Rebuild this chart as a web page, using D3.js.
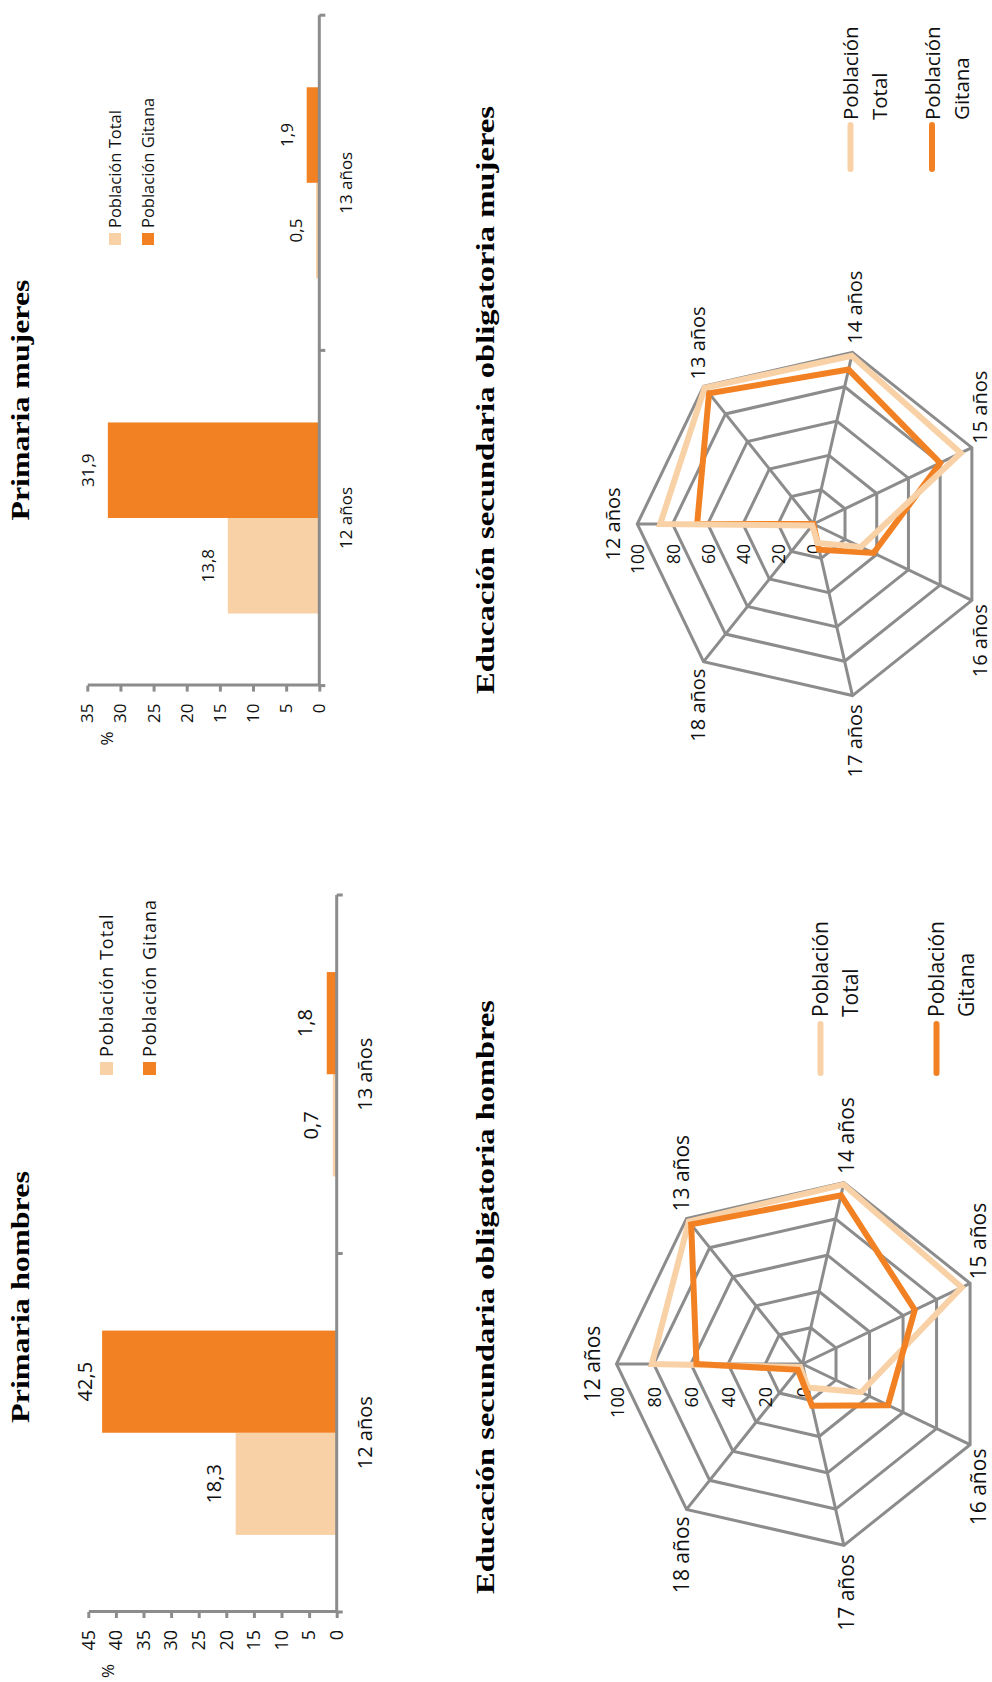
<!DOCTYPE html>
<meta charset="utf-8">
<style>
  body { margin: 0; background: #fff; }
  svg { display: block; }
  text { font-family: "Open Sans", sans-serif; fill: #111; }
  .title { font-family: "Liberation Serif", serif; font-weight: bold; fill: #000; }
  .axis path, .axis line { stroke: #8c8c8c; stroke-width: 3; fill: none; }
  .grid { fill: none; stroke: #8c8c8c; stroke-width: 3; }
</style>
<body></body>
<script src="https://cdn.jsdelivr.net/npm/d3@7"></script>
<script>
// ---- data ----
var barAges = ["12 años", "13 años"];
var barSeries = ["Población Total", "Población Gitana"];
var primHombresTotal = [18.3, 0.7];
var primHombresGitana = [42.5, 1.8];
var primMujeresTotal = [13.8, 0.5];
var primMujeresGitana = [31.9, 1.9];
var ticksHombres = [0, 5, 10, 15, 20, 25, 30, 35, 40, 45];
var ticksMujeres = [0, 5, 10, 15, 20, 25, 30, 35];

var radarAges = ["12 años", "13 años", "14 años", "15 años", "16 años", "17 años", "18 años"];
var ringLevels = [0, 20, 40, 60, 80, 100];
var esoHombresTotal = [81, 98, 99, 95, 35, 13, 2];
var esoHombresGitana = [57, 96, 93, 67, 51, 23, 4];
var esoMujeresTotal = [87, 99, 98, 93, 30, 11, 1];
var esoMujeresGitana = [66, 95, 90, 80, 38, 15, 0];

var colors = ["#f9d1a7", "#f28123"];

var fmt = d3.formatLocale({decimal: ",", thousands: ".", grouping: [3], currency: ["", "€"]}).format(".1f");

var W = 992, H = 1682;
var svg = d3.select("body").append("svg").attr("width", W).attr("height", H);
// the page is printed landscape and turned a quarter turn
var root = svg.append("g").attr("transform", "translate(0," + H + ") rotate(-90)");

function title(txt, x, y, len) {
  root.append("text").attr("class", "title")
    .attr("x", x).attr("y", y)
    .attr("text-anchor", "middle")
    .attr("font-size", 26)
    .attr("textLength", len).attr("lengthAdjust", "spacingAndGlyphs")
    .text(txt);
}

function barChart(o) {
  var g = root.append("g");
  var x0 = d3.scaleBand().domain(barAges).range([o.x0, o.x1]);
  var bw = x0.bandwidth();
  var x1 = d3.scaleBand().domain(barSeries).range([bw * 0.215, bw * 0.785]);
  var y = d3.scaleLinear().domain([0, o.max]).range([o.base, o.top]);

  var rows = barAges.map(function(a, i) {
    return {age: a, vals: [{s: barSeries[0], v: o.total[i], c: colors[0]},
                           {s: barSeries[1], v: o.gitana[i], c: colors[1]}]};
  });

  var grp = g.selectAll(".grp").data(rows).enter().append("g")
    .attr("transform", function(d) { return "translate(" + x0(d.age) + ",0)"; });

  grp.selectAll("rect").data(function(d) { return d.vals; }).enter().append("rect")
    .attr("x", function(d) { return x1(d.s); })
    .attr("width", x1.bandwidth())
    .attr("y", function(d) { return y(d.v); })
    .attr("height", function(d) { return y(0) - y(d.v); })
    .attr("fill", function(d) { return d.c; });

  grp.selectAll(".lbl").data(function(d) { return d.vals; }).enter().append("text")
    .attr("x", function(d) { return x1(d.s) + x1.bandwidth() / 2; })
    .attr("y", function(d) { return Math.max(y(d.v) - o.lblGap, o.top + 4); })
    .attr("text-anchor", "middle")
    .attr("font-size", o.lblFont)
    .text(function(d) { return fmt(d.v); });

  // value axis
  var ya = g.append("g").attr("class", "axis")
    .attr("transform", "translate(" + o.x0 + ",0)")
    .call(d3.axisLeft(y).tickValues(o.ticks).tickSize(6).tickSizeOuter(0).tickPadding(12));
  ya.attr("font-family", null).attr("font-size", null);
  ya.selectAll("text").attr("font-size", o.tickFont).style("fill", "#111");

  // category axis with ticks between the groups
  var xa = g.append("g").attr("class", "axis").attr("transform", "translate(0," + y(0) + ")");
  xa.append("path").attr("d", "M" + o.x0 + ",0H" + o.x1);
  var edges = barAges.map(function(a) { return x0(a); }).concat([o.x1]);
  xa.selectAll(".edge").data(edges).enter().append("line")
    .attr("x1", function(d) { return d; }).attr("x2", function(d) { return d; })
    .attr("y1", 0).attr("y2", 6);
  g.selectAll(".cat").data(barAges).enter().append("text")
    .attr("x", function(d) { return x0(d) + bw / 2; })
    .attr("y", o.catY)
    .attr("text-anchor", "middle")
    .attr("font-size", o.catFont)
    .text(function(d) { return d; });

  g.append("text").attr("x", o.pct[0]).attr("y", o.pct[1])
    .attr("text-anchor", "middle").attr("dominant-baseline", "central")
    .attr("font-size", 17).text("%");

  // legend
  var lg = g.selectAll(".leg").data(barSeries).enter().append("g")
    .attr("transform", function(d, i) { return "translate(" + o.legX + "," + o.legY[i] + ")"; });
  lg.append("rect").attr("width", o.sw).attr("height", o.sw)
    .attr("fill", function(d, i) { return colors[i]; });
  lg.append("text").attr("x", o.legText).attr("y", o.sw)
    .attr("font-size", o.legFont).attr("letter-spacing", o.legSpace)
    .text(function(d) { return d; });

  title(o.title, o.titleX, 28.5, o.titleLen);
}

function radar(o) {
  var g = root.append("g").attr("transform", "translate(" + o.cx + "," + o.cy + ")");
  var n = radarAges.length;
  var r = d3.scaleLinear().domain([0, 100]).range([0, o.R]);
  var ang = function(i) { return i * 2 * Math.PI / n; };

  var ring = d3.lineRadial()
    .angle(function(d, i) { return ang(i); })
    .radius(function(d) { return r(d); })
    .curve(d3.curveLinearClosed);

  g.selectAll(".ring").data(ringLevels.slice(1)).enter().append("path")
    .attr("class", "grid")
    .attr("d", function(lv) { return ring(radarAges.map(function() { return lv; })); });

  g.selectAll(".spoke").data(radarAges).enter().append("line")
    .attr("class", "grid")
    .attr("x1", 0).attr("y1", 0)
    .attr("x2", function(d, i) { return r(100) * Math.sin(ang(i)); })
    .attr("y2", function(d, i) { return -r(100) * Math.cos(ang(i)); });

  g.selectAll(".rl").data(ringLevels).enter().append("text")
    .attr("x", -o.ringGap)
    .attr("y", function(d) { return -r(d); })
    .attr("text-anchor", "end")
    .attr("dominant-baseline", "central")
    .attr("font-size", o.ringFont)
    .text(function(d) { return d; });

  var series = [
    {vals: o.total, c: colors[0]},
    {vals: o.gitana, c: colors[1]}
  ];
  var ordered = o.order.map(function(k) { return series[k]; });
  g.selectAll(".ser").data(ordered).enter().append("path")
    .attr("d", function(d) { return ring(d.vals); })
    .attr("fill", "none")
    .attr("stroke", function(d) { return d.c; })
    .attr("stroke-width", 6)
    .attr("stroke-linejoin", "miter");

  g.selectAll(".ax").data(radarAges).enter().append("text")
    .attr("font-size", o.labelFont)
    .each(function(d, i) {
      var a = ang(i), s = Math.sin(a), c = Math.cos(a);
      var t = d3.select(this);
      if (Math.abs(s) < 0.1) {
        t.attr("x", 0).attr("y", -r(100) - 17).attr("text-anchor", "middle");
      } else {
        t.attr("x", (r(100) + 9) * s).attr("y", -(r(100) + 9) * c)
          .attr("dominant-baseline", "central")
          .attr("text-anchor", s > 0 ? "start" : "end");
      }
    })
    .text(function(d) { return d; });

  // legend, two lines per entry
  var lg = root.selectAll(".rleg" + o.id).data(barSeries).enter().append("g")
    .attr("transform", function(d, i) { return "translate(0," + o.legY[i] + ")"; });
  lg.append("line")
    .attr("x1", o.legX[0]).attr("x2", o.legX[1])
    .attr("y1", 0).attr("y2", 0)
    .attr("stroke", function(d, i) { return colors[i]; })
    .attr("stroke-width", 6).attr("stroke-linecap", "round");
  lg.selectAll("text").data(function(d) { return d.split(" "); }).enter().append("text")
    .attr("x", o.legText)
    .attr("y", function(d, j) { return 7.5 + j * o.legLine; })
    .attr("font-size", o.legFont)
    .text(function(d) { return d; });

  title(o.title, o.titleX, 494, o.titleLen);
}

barChart({
  x0: 70, x1: 787, base: 336.7, top: 88.3, max: 45, ticks: ticksHombres,
  total: primHombresTotal, gitana: primHombresGitana,
  catY: 372, catFont: 20, lblFont: 20, lblGap: 15, tickFont: 18,
  pct: [11, 107.5],
  legX: 607, legY: [100, 143], sw: 13, legText: 18, legFont: 18, legSpace: 1,
  title: "Primaria hombres", titleX: 385, titleLen: 252
});

barChart({
  x0: 996.4, x1: 1666.8, base: 319.3, top: 87.3, max: 35, ticks: ticksMujeres,
  total: primMujeresTotal, gitana: primMujeresGitana,
  catY: 352, catFont: 17, lblFont: 17, lblGap: 14, tickFont: 17,
  pct: [943.5, 106],
  legX: 1437, legY: [109, 142], sw: 12, legText: 17, legFont: 16.5, legSpace: 0,
  title: "Primaria mujeres", titleX: 1282, titleLen: 241
});

radar({
  id: "h", cx: 318, cy: 802.5, R: 186,
  total: esoHombresTotal, gitana: esoHombresGitana, order: [0, 1],
  labelFont: 21, ringFont: 18, ringGap: 23,
  legX: [609, 658], legY: [820.5, 936.5], legText: 665, legFont: 21, legLine: 30,
  title: "Educación secundaria obligatoria hombres", titleX: 385, titleLen: 594
});

radar({
  id: "m", cx: 1158, cy: 813.3, R: 176,
  total: esoMujeresTotal, gitana: esoMujeresGitana, order: [1, 0],
  labelFont: 20, ringFont: 17.5, ringGap: 20,
  legX: [1513, 1557], legY: [850.5, 932], legText: 1562, legFont: 20.5, legLine: 29,
  title: "Educación secundaria obligatoria mujeres", titleX: 1282, titleLen: 588
});
</script>
